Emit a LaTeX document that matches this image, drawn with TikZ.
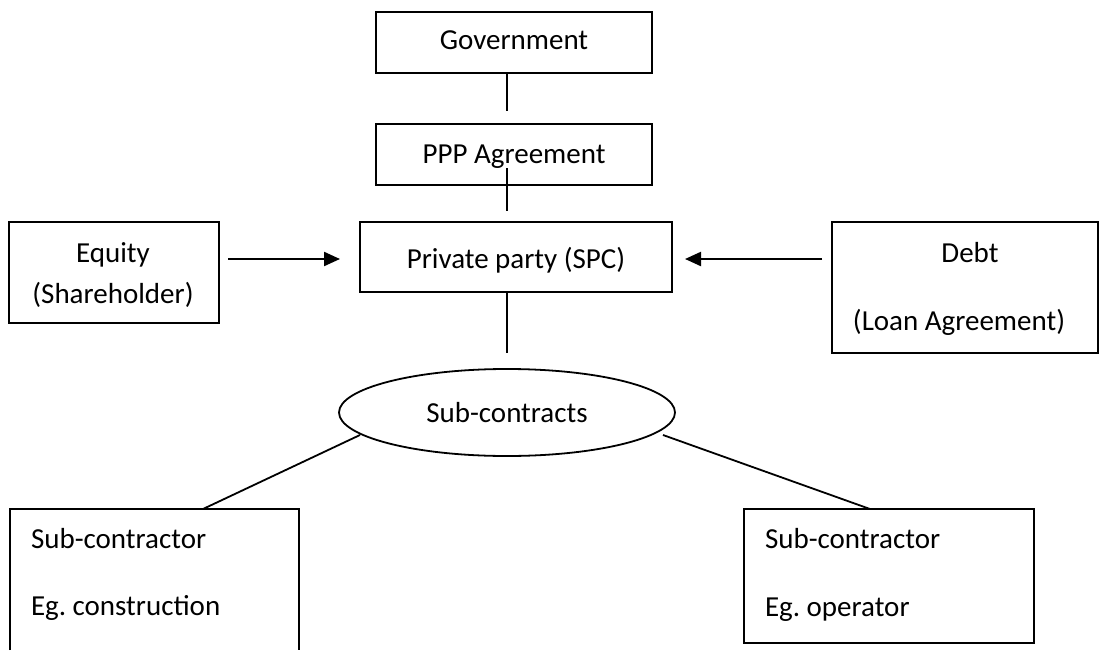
\documentclass[tikz,border=0pt]{standalone}
\usepackage{fontspec}
\setmainfont{Carlito}
\usetikzlibrary{arrows.meta,shapes.geometric}
\begin{document}
\begin{tikzpicture}[x=1pt,y=-1pt,
  every node/.style={inner sep=0pt,outer sep=0pt},
  box/.style={draw,line width=1.8pt,rectangle},
  txt/.style={anchor=base,font=\fontsize{29}{35}\selectfont},
  ltxt/.style={anchor=base west,font=\fontsize{29}{35}\selectfont},
  conn/.style={line width=1.8pt},
  arr/.style={line width=2.2pt,-{Triangle[length=16pt,width=14pt]}}]
\useasboundingbox (0,0) rectangle (1099,650);
% boxes
\node[box,minimum width=276pt,minimum height=61pt] (gov) at (514,42.5) {};
\node[box,minimum width=276pt,minimum height=61pt] (ppp) at (514,154.5) {};
\node[box,minimum width=312pt,minimum height=70pt] (spc) at (516,257) {};
\node[box,minimum width=210pt,minimum height=101pt] (eq) at (114,272.5) {};
\node[box,minimum width=266pt,minimum height=131pt] (debt) at (965,287.5) {};
\node[draw,line width=1.8pt,ellipse,minimum width=336pt,minimum height=87pt] (sc) at (507,412.5) {};
\node[minimum width=289pt,minimum height=141pt] (sub1) at (154.5,579.5) {};
\draw[line width=1.8pt] (sub1.south west) -- (sub1.north west) -- (sub1.north east) -- (sub1.south east);
\node[box,minimum width=290pt,minimum height=134pt] (sub2) at (889,576) {};
% texts
\node[txt] (tgov) at (514,50) {Government};
\node[txt] (tppp) at (514,163) {PPP Agreement};
\node[txt] (tspc) at (516,268) {Private party (SPC)};
\node[txt] (teq1) at (113,262) {Equity};
\node[txt] (teq2) at (113,303) {(Shareholder)};
\node[txt] (tdb1) at (970,262) {Debt};
\node[txt] (tdb2) at (959,330) {(Loan Agreement)};
\node[txt] (tsc) at (507,422) {Sub-contracts};
\node[ltxt] (ts11) at (31,548) {Sub-contractor};
\node[ltxt] (ts12) at (31,615) {Eg.\ construction};
\node[ltxt] (ts21) at (765,548) {Sub-contractor};
\node[ltxt] (ts22) at (765,616) {Eg.\ operator};
% connector ends
\coordinate (g1) at (507,111);
\coordinate (p0) at (507,168);
\coordinate (p1) at (507,211);
\coordinate (s1) at (507,353);
\coordinate (ea) at (228,259);
\coordinate (eb) at (340,259);
\coordinate (da) at (822,259);
\coordinate (db) at (685,259);
\coordinate (l0) at (360,435);
\coordinate (l1) at (203,509);
\coordinate (r0) at (663,435);
\coordinate (r1) at (870,509);
% connectors
\draw[conn] (gov.south -| g1) -- (g1);
\draw[conn] (p0) -- (p1);
\draw[conn] (spc.south -| s1) -- (s1);
\draw[arr] (ea) -- (eb);
\draw[arr] (da) -- (db);
\draw[conn] (l0) -- (l1);
\draw[conn] (r0) -- (r1);
\end{tikzpicture}
\end{document}
